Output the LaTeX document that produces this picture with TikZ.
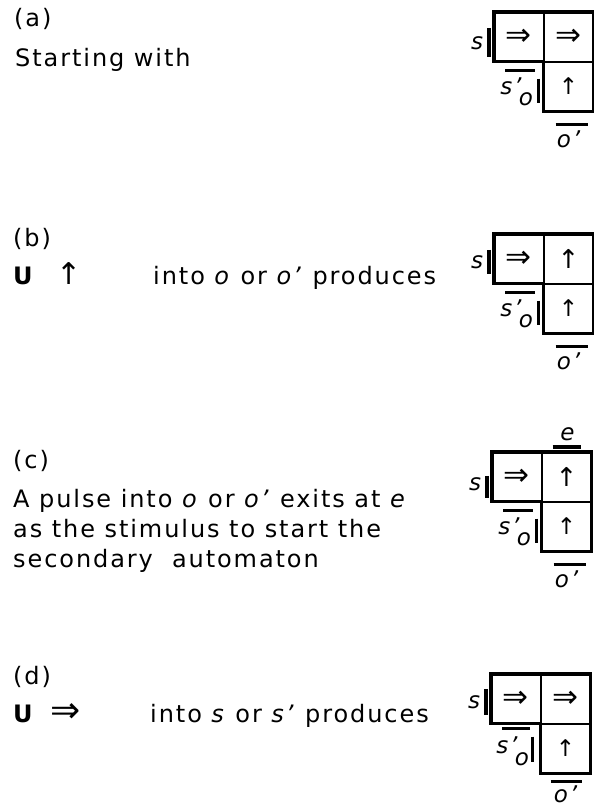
\documentclass[tikz,border=0pt]{standalone}
\usepackage{fontspec}
\setmainfont{DejaVu Sans}[LetterSpace=8.0]
\usetikzlibrary{positioning}
\begin{document}
\begin{tikzpicture}[x=1pt, y=1pt,
  every node/.style={font=\fontsize{24}{30}\selectfont},
  cell/.style={rectangle, draw, line width=0.7pt, minimum size=49pt, inner sep=0pt},
  dbl/.style={font=\fontsize{31}{34}\selectfont},
  up/.style={font=\fontsize{23}{26}\selectfont},
  rim/.style={line width=3.4pt, line join=miter},
  bar/.style={line width=3.4pt},
  lbl/.style={font=\fontsize{23}{26}\selectfont\itshape, inner sep=0pt},
  txt/.style={anchor=base west, inner sep=0pt},
]
\useasboundingbox (0,0) rectangle (594,807);

\node[txt] (tagA) at (14,780) {(a)};
\node[txt] (txtA) at (15,740) {Starting with};
\node[cell, dbl, anchor=north west] (a1) at (494,795) {⇒};
\node[cell, dbl, anchor=west] (a2) at (a1.east) {⇒};
\node[cell, up, anchor=north] (a3) at (a2.south) {↑};
\draw[rim] (a1.south east) -- (a1.south west) -- (a1.north west) -- (a2.north east) -- (a3.south east) -- (a3.south west) -- cycle;
\draw[bar] ([xshift=-5pt,yshift=9pt]a1.west) -- ([xshift=-5pt,yshift=-20pt]a1.west);
\node[lbl] (aS) at ([xshift=-17pt,yshift=-6pt]a1.west) {s};
\draw[bar] ([xshift=11pt,yshift=-9pt]a1.south west) -- ([xshift=41pt,yshift=-9pt]a1.south west);
\node[lbl] (aSp) at ([xshift=17pt,yshift=-25pt]a1.south west) {s'};
\node[lbl] (aO) at ([xshift=32pt,yshift=-38pt]a1.south west) {o};
\draw[bar] ([xshift=-5pt,yshift=8pt]a3.west) -- ([xshift=-5pt,yshift=-16pt]a3.west);
\draw[bar] ([xshift=12pt,yshift=-13pt]a3.south west) -- ([xshift=44pt,yshift=-13pt]a3.south west);
\node[lbl] (aOp) at ([yshift=-28pt]a3.south) {o'};

\node[txt] (tagB) at (13,560) {(b)};
\node[txt] (uB) at (13,522) {\textbf{U}};
\node[txt, font=\fontsize{30}{32}\selectfont] (arB) at (56,522) {↑};
\node[txt] (txtB) at (153,522) {into \textit{o} or \textit{o'} produces};
\node[cell, dbl, anchor=north west] (b1) at (494,573) {⇒};
\node[cell, up, font=\fontsize{26}{28}\selectfont, anchor=west] (b2) at (b1.east) {↑};
\node[cell, up, anchor=north] (b3) at (b2.south) {↑};
\draw[rim] (b1.south east) -- (b1.south west) -- (b1.north west) -- (b2.north east) -- (b3.south east) -- (b3.south west) -- cycle;
\draw[bar] ([xshift=-5pt,yshift=9pt]b1.west) -- ([xshift=-5pt,yshift=-15pt]b1.west);
\node[lbl] (bS) at ([xshift=-17pt,yshift=-3pt]b1.west) {s};
\draw[bar] ([xshift=11pt,yshift=-9pt]b1.south west) -- ([xshift=41pt,yshift=-9pt]b1.south west);
\node[lbl] (bSp) at ([xshift=17pt,yshift=-25pt]b1.south west) {s'};
\node[lbl] (bO) at ([xshift=32pt,yshift=-38pt]b1.south west) {o};
\draw[bar] ([xshift=-5pt,yshift=8pt]b3.west) -- ([xshift=-5pt,yshift=-16pt]b3.west);
\draw[bar] ([xshift=12pt,yshift=-13pt]b3.south west) -- ([xshift=44pt,yshift=-13pt]b3.south west);
\node[lbl] (bOp) at ([yshift=-28pt]b3.south) {o'};

\node[txt] (tagC) at (13,338) {(c)};
\node[txt] (txtC1) at (13,299) {A pulse into \textit{o} or \textit{o'} exits at \textit{e}};
\node[txt] (txtC2) at (13,269) {as the stimulus to start the};
\node[txt] (txtC3) at (13,239) {secondary\ \ automaton};
\node[cell, dbl, anchor=north west] (c1) at (492,355) {⇒};
\node[cell, up, font=\fontsize{26}{28}\selectfont, anchor=west] (c2) at (c1.east) {↑};
\node[cell, up, anchor=north] (c3) at (c2.south) {↑};
\draw[rim] (c1.south east) -- (c1.south west) -- (c1.north west) -- (c2.north east) -- (c3.south east) -- (c3.south west) -- cycle;
\draw[bar] ([xshift=-5pt,yshift=1pt]c1.west) -- ([xshift=-5pt,yshift=-21pt]c1.west);
\node[lbl] (cS) at ([xshift=-17pt,yshift=-7pt]c1.west) {s};
\draw[bar] ([xshift=11pt,yshift=-9pt]c1.south west) -- ([xshift=41pt,yshift=-9pt]c1.south west);
\node[lbl] (cSp) at ([xshift=17pt,yshift=-25pt]c1.south west) {s'};
\node[lbl] (cO) at ([xshift=32pt,yshift=-38pt]c1.south west) {o};
\draw[bar] ([xshift=-5pt,yshift=8pt]c3.west) -- ([xshift=-5pt,yshift=-16pt]c3.west);
\draw[bar] ([xshift=12pt,yshift=-13pt]c3.south west) -- ([xshift=44pt,yshift=-13pt]c3.south west);
\node[lbl] (cOp) at ([yshift=-28pt]c3.south) {o'};
\draw[bar] ([xshift=11pt,yshift=5pt]c2.north west) -- ([xshift=39pt,yshift=5pt]c2.north west);
\node[lbl] (cE) at ([xshift=1pt,yshift=18pt]c2.north) {e};

\node[txt] (tagD) at (13,122) {(d)};
\node[txt] (uD) at (13,84) {\textbf{U}};
\node[txt, font=\fontsize{36}{38}\selectfont] (arD) at (50,84) {⇒};
\node[txt] (txtD) at (150,84) {into \textit{s} or \textit{s'} produces};
\node[cell, dbl, anchor=north west] (d1) at (491,133) {⇒};
\node[cell, dbl, anchor=west] (d2) at (d1.east) {⇒};
\node[cell, up, anchor=north] (d3) at (d2.south) {↑};
\draw[rim] (d1.south east) -- (d1.south west) -- (d1.north west) -- (d2.north east) -- (d3.south east) -- (d3.south west) -- cycle;
\draw[bar] ([xshift=-5pt,yshift=10pt]d1.west) -- ([xshift=-5pt,yshift=-16pt]d1.west);
\node[lbl] (dS) at ([xshift=-17pt,yshift=-3pt]d1.west) {s};
\draw[bar] ([xshift=11pt,yshift=-5pt]d1.south west) -- ([xshift=39pt,yshift=-5pt]d1.south west);
\node[lbl] (dSp) at ([xshift=16pt,yshift=-22pt]d1.south west) {s'};
\node[lbl] (dO) at ([xshift=31pt,yshift=-36pt]d1.south west) {o};
\draw[bar] ([xshift=-8pt,yshift=12pt]d3.west) -- ([xshift=-8pt,yshift=-13pt]d3.west);
\draw[bar] ([xshift=10pt,yshift=-8pt]d3.south west) -- ([xshift=41pt,yshift=-8pt]d3.south west);
\node[lbl] (dOp) at ([yshift=-21pt]d3.south) {o'};
\end{tikzpicture}
\end{document}
